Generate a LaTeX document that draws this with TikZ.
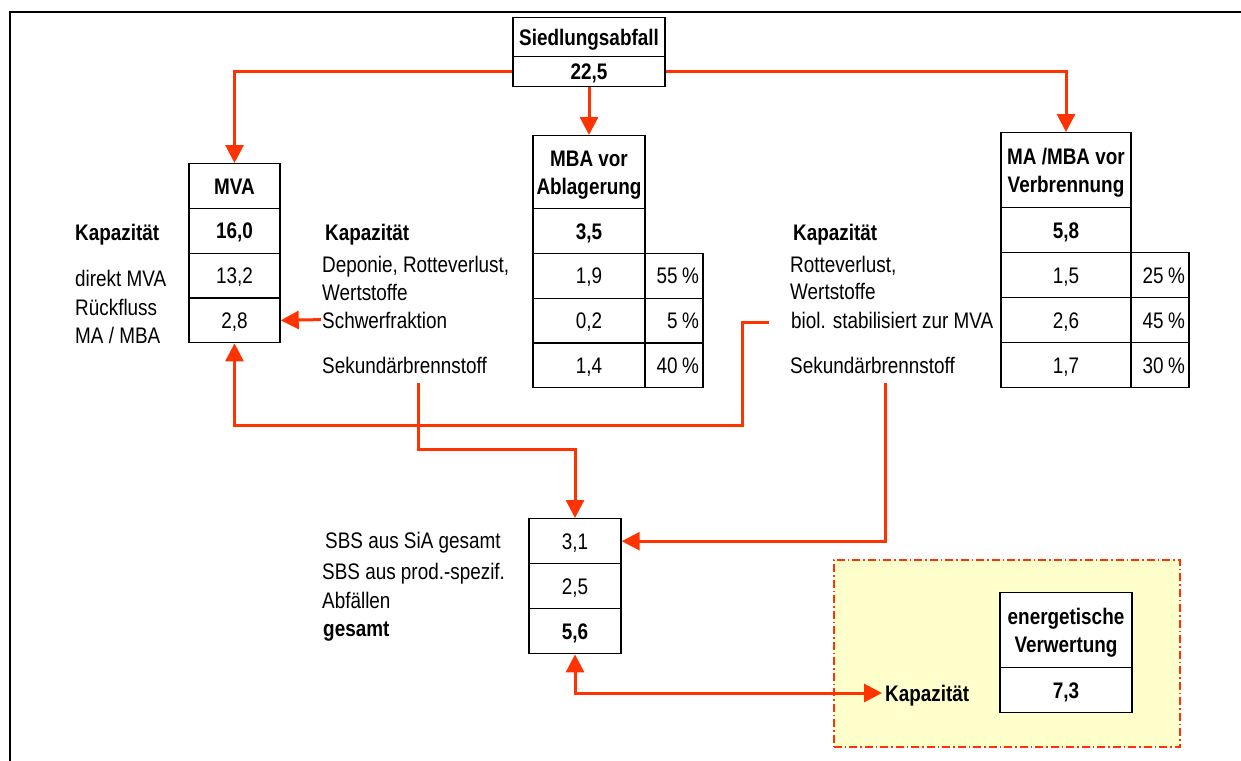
\documentclass[tikz,border=0pt]{standalone}
\usepackage{fontspec}
\setmainfont{Liberation Sans}[FakeStretch=0.84]
\usetikzlibrary{arrows.meta}
\definecolor{flowred}{RGB}{255,51,0}
\definecolor{areayellow}{RGB}{255,255,204}
\begin{document}
\begin{tikzpicture}[x=1pt,y=-1pt,
  every node/.style={font=\fontsize{22.5}{28}\selectfont},
  cell/.style 2 args={draw=black, line width=1.4pt, fill=white, inner sep=0pt,
    minimum width=#1, minimum height=#2, text height=16pt, text depth=0pt, anchor=north},
  headcell/.style 2 args={cell={#1}{#2}, align=center, text height=44pt, text depth=0pt},
  pcell/.style 2 args={cell={#1}{#2}, text width=50pt, align=right},
  lbl/.style={anchor=base west, inner sep=0pt},
  flow/.style={draw=flowred, line width=3pt, -{Triangle[length=18pt,width=18pt]}},
  flow2/.style={draw=flowred, line width=3pt, {Triangle[length=18pt,width=18pt]}-{Triangle[length=18pt,width=18pt]}},
  area/.style={draw=flowred, fill=areayellow, line width=1.8pt,
    dash pattern=on 8pt off 3pt on 1.5pt off 3pt, inner sep=0pt, anchor=north west}
]
\useasboundingbox (0,0) rectangle (1241,760);
% frame
\draw[line width=2pt] (10,790) -- (10,12) -- (1270,12);

% highlighted area
\node[area, minimum width=346, minimum height=187] (area) at (833,559) {};

% Siedlungsabfall
\node[cell={152}{39}] (s1) at (589,17) {\bfseries Siedlungsabfall};
\node[cell={152}{30}] (s2) at (589,56) {\bfseries 22,5};

% MVA
\node[cell={91}{44.75}] (mva1) at (234.5,163) {\bfseries MVA};
\node[cell={91}{44.75}] (mva2) at (234.5,207.75) {\bfseries 16,0};
\node[cell={91}{44.75}] (mva3) at (234.5,252.5) {13,2};
\node[cell={91}{44.75}] (mva4) at (234.5,297.25) {2,8};

% MBA vor Ablagerung
\node[headcell={112}{73}] (mba1) at (589,135) {\bfseries MBA vor\\\bfseries Ablagerung};
\node[cell={112}{44.75}] (mba2) at (589,208) {\bfseries 3,5};
\node[cell={112}{44.75}] (mba3) at (589,252.75) {1,9};
\node[cell={112}{44.75}] (mba4) at (589,297.5) {0,2};
\node[cell={112}{44.75}] (mba5) at (589,342.25) {1,4};
\node[pcell={58}{44.75}] (mbap3) at (674,252.75) {55\kern4.5pt\%};
\node[pcell={58}{44.75}] (mbap4) at (674,297.5) {5\kern4.5pt\%};
\node[pcell={58}{44.75}] (mbap5) at (674,342.25) {40\kern4.5pt\%};

% MA/MBA vor Verbrennung
\node[headcell={130}{75}] (ma1) at (1066,132) {\bfseries MA /MBA vor\\\bfseries Verbrennung};
\node[cell={130}{45}] (ma2) at (1066,207) {\bfseries 5,8};
\node[cell={130}{45}] (ma3) at (1066,252) {1,5};
\node[cell={130}{45}] (ma4) at (1066,297) {2,6};
\node[cell={130}{45}] (ma5) at (1066,342) {1,7};
\node[pcell={58}{45}] (map3) at (1160,252) {25\kern4.5pt\%};
\node[pcell={58}{45}] (map4) at (1160,297) {45\kern4.5pt\%};
\node[pcell={58}{45}] (map5) at (1160,342) {30\kern4.5pt\%};

% SBS
\node[cell={92}{45}] (sbs1) at (575,518) {3,1};
\node[cell={92}{45}] (sbs2) at (575,563) {2,5};
\node[cell={92}{45}] (sbs3) at (575,608) {\bfseries 5,6};

% energetische Verwertung
\node[headcell={132}{75}] (ev1) at (1066,592) {\bfseries energetische\\\bfseries Verwertung};
\node[cell={132}{45}] (ev2) at (1066,667) {\bfseries 7,3};

% left labels
\node[lbl] (lk) at (75,240) {\bfseries Kapazität};
\node[lbl] (ld) at (75,286) {direkt MVA};
\node[lbl] (lr) at (75,315) {Rückfluss};
\node[lbl] (lm) at (75,343) {MA / MBA};

% middle labels
\node[lbl] (mk) at (325,240) {\bfseries Kapazität};
\node[lbl] (md) at (322,272) {Deponie, Rotteverlust,};
\node[lbl] (mw) at (322,300) {Wertstoffe};
\node[lbl] (schwer) at (322,328) {Schwerfraktion};
\node[lbl] (msek) at (322,373) {Sekundärbrennstoff};

% right labels
\node[lbl] (rk) at (793,240) {\bfseries Kapazität};
\node[lbl] (rr) at (790,272) {Rotteverlust,};
\node[lbl] (rw) at (790,299) {Wertstoffe};
\node[lbl] (biol) at (791,328) {biol. stabilisiert zur MVA};
\node[lbl] (rsek) at (790,373) {Sekundärbrennstoff};

% lower labels
\node[lbl] (sa) at (325,548) {SBS aus SiA gesamt};
\node[lbl] (sb) at (322,579) {SBS aus prod.-spezif.};
\node[lbl] (sc) at (322,608) {Abfällen};
\node[lbl] (sg) at (323,636) {\bfseries gesamt};
\node[lbl] (ek) at (885,701) {\bfseries Kapazität};

% connectors
\coordinate (schwerStart) at (321,319.6);
\coordinate (biolStart) at (769,322);
\coordinate (msekStart) at (418,383);
\coordinate (rsekStart) at (885,383);

\draw[flow] (s2.west) -| (mva1.north);
\draw[flow] (s2.east) -| (ma1.north);
\draw[flow] (s2.south) -- (mba1.north);
\draw[flow] (schwerStart) -- (mva4.east);
\draw[flow] (biolStart) -- (742,322) -- (742,425) -| (mva4.south);
\draw[flow] (msekStart) -- (418,449) -| (sbs1.north);
\draw[flow] (rsekStart) |- (sbs1.east);
\draw[flow2] (sbs3.south) |- (882,693);
\end{tikzpicture}
\end{document}
